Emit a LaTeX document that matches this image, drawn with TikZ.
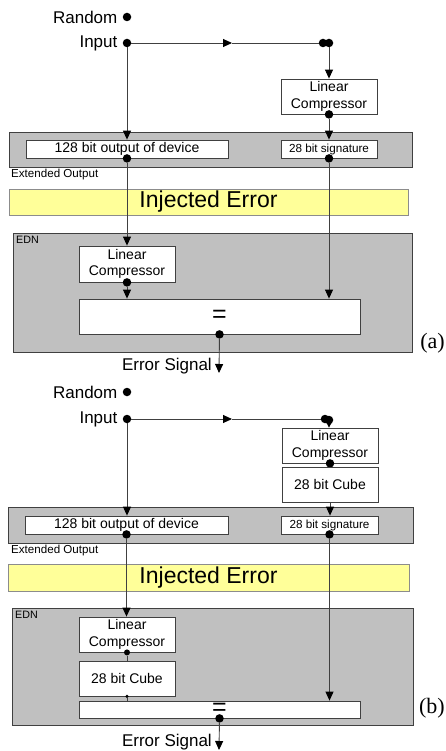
\documentclass[tikz,border=0pt]{standalone}
\usepackage{fontspec}
\setmainfont{Liberation Sans}
\newfontfamily\tagfont{Liberation Serif}
\usetikzlibrary{arrows.meta}
\definecolor{boxgray}{HTML}{C0C0C0}
\definecolor{errfill}{HTML}{FFFF99}
\definecolor{rulegray}{HTML}{404040}
\newcommand{\fsz}[1]{\fontsize{#1}{16.5}\selectfont}

\begin{document}
\begin{tikzpicture}[x=1pt, y=-1pt, label distance=5pt,
    line/.style={draw=rulegray, line width=0.9pt},
    tip/.style={line, -{Triangle[length=9pt,width=8pt,color=black]}},
    dot/.style={circle, fill=black, inner sep=0pt, minimum size=8.5pt},
    panel/.style={draw=rulegray, fill=boxgray, line width=0.8pt, inner sep=0pt},
    blk/.style={draw=rulegray, fill=white, line width=0.8pt, inner sep=0pt, align=center, font=\fsz{14}},
    errbar/.style={draw=black!45, fill=errfill, inner sep=0pt, font=\fsz{23}},
    lbl/.style={inner sep=0pt, font=\fsz{17}}]
    \useasboundingbox (0,0) rectangle (445,751);

    % (a)
    \node[dot, label={[lbl]left:Random}] (ranA) at (127,17) {};
    \node[dot, label={[lbl]left:Input}] (inA) at (127,43) {};
    \node[dot] (tapA0) at (323,43) {};
    \node[dot] (tapA) at (329,43) {};
    \coordinate (midA) at (232,43);
    \node[blk, minimum width=96, minimum height=35] (lcA) at (329,96.5) {Linear\\Compressor};
    \node[dot] (lcAout) at (lcA.south) {};
    \node[panel, minimum width=403, minimum height=35] (extA) at (210.5,149.5) {};
    \node[blk, minimum width=202, minimum height=18] (devA) at (127,149) {128 bit output of device};
    \node[blk, minimum width=96, minimum height=18, font=\fsz{11.7}] (sigA) at (329,149) {28 bit signature};
    \node[dot] (devAout) at (devA.south) {};
    \node[dot] (sigAout) at (sigA.south) {};
    \node[lbl, anchor=west, font=\fsz{11.6}] (extlblA) at (11,175) {Extended Output};
    \node[errbar, minimum width=399, minimum height=26] (errA) at (208.5,202) {Injected Error};
    \node[panel, minimum width=399, minimum height=119] (ednA) at (212.5,292.5) {};
    \node[lbl, anchor=north west, font=\fsz{10.7}] (ednlblA) at (16,236) {EDN};
    \node[blk, minimum width=96, minimum height=36] (lc2A) at (127,264) {Linear\\Compressor};
    \node[dot] (lc2Aout) at (lc2A.south) {};
    \node[blk, minimum width=281, minimum height=35, font=\fsz{25}] (eqA) at (219.5,316.5) {=};
    \node[dot] (eqAout) at (eqA.south) {};
    \coordinate (outA) at (219,373);
    \node[lbl, anchor=east] (errsigA) at (212,366) {Error Signal};
    \node[lbl, anchor=east, font=\tagfont\fsz{22}] (tagA) at (445,343) {(a)};

    \draw[tip] (inA) -- (midA);
    \draw[line] (midA) -- (tapA0);
    \draw[tip] (tapA) -- (lcA);
    \draw[tip] (lcAout) -- (sigA);
    \draw[tip] (inA) -- (devA);
    \draw[tip] (devAout) -- (lc2A);
    \draw[tip] (sigAout) -- (eqA.north -| sigAout);
    \draw[tip] (lc2Aout) -- (eqA.north -| lc2Aout);
    \draw[tip] (eqAout) -- (outA);

    % (b)
    \node[dot, label={[lbl]left:Random}] (ranB) at (127,392) {};
    \node[dot, label={[lbl]left:Input}] (inB) at (127,419) {};
    \node[dot] (tapB0) at (325,419) {};
    \node[dot] (tapB) at (329,420) {};
    \coordinate (midB) at (232,419);
    \node[blk, minimum width=96, minimum height=35] (lcB) at (330,445.5) {Linear\\Compressor};
    \node[dot] (lcBout) at (lcB.south) {};
    \node[blk, minimum width=96, minimum height=35] (cubeB) at (330,484.5) {28 bit Cube};
    \node[panel, minimum width=405, minimum height=36] (extB) at (210.5,525) {};
    \node[blk, minimum width=203, minimum height=18] (devB) at (126.5,525) {128 bit output of device};
    \node[blk, minimum width=97, minimum height=18, font=\fsz{11.7}] (sigB) at (329.5,525) {28 bit signature};
    \node[dot] (devBout) at (devB.south) {};
    \node[dot] (sigBout) at (sigB.south) {};
    \node[lbl, anchor=west, font=\fsz{11.6}] (extlblB) at (11,550) {Extended Output};
    \node[errbar, minimum width=401, minimum height=27] (errB) at (208.5,577.5) {Injected Error};
    \node[panel, minimum width=401, minimum height=117] (ednB) at (212.5,666.5) {};
    \node[lbl, anchor=north west, font=\fsz{10.7}] (ednlblB) at (15,611) {EDN};
    \node[blk, minimum width=96, minimum height=35] (lc2B) at (127,634.5) {Linear\\Compressor};
    \node[dot, minimum size=6pt] (lc2Bout) at (lc2B.south) {};
    \node[blk, minimum width=96, minimum height=35] (cube2B) at (127,678.5) {28 bit Cube};
    \node[dot, minimum size=3.5pt] (cube2Bout) at (cube2B.south) {};
    \node[blk, minimum width=281, minimum height=17, font=\fsz{25}] (eqB) at (219.5,709.5) {=};
    \node[dot] (eqBout) at (eqB.south) {};
    \coordinate (outB) at (219,750);
    \node[lbl, anchor=east] (errsigB) at (212,742) {Error Signal};
    \node[lbl, anchor=east, font=\tagfont\fsz{22}] (tagB) at (445,708) {(b)};

    \draw[tip] (inB) -- (midB);
    \draw[line] (midB) -- (tapB0);
    \draw[line, -{Triangle[length=5pt,width=5pt,color=black]}] (tapB) -- (lcB.north -| tapB);
    \draw[line] (lcBout) -- (cubeB);
    \draw[tip] (cubeB.south) -- (cubeB.south |- sigB.north);
    \draw[tip] (inB) -- (devB.north -| inB);
    \draw[tip] (devBout) -- (lc2B.north -| devBout);
    \draw[tip] (sigBout) -- (eqB.north -| sigBout);
    \draw[line] (lc2Bout) -- (cube2B);
    \draw[line] (cube2Bout) -- (eqB.north -| cube2Bout);
    \draw[tip] (eqBout) -- (outB);
\end{tikzpicture}
\end{document}
